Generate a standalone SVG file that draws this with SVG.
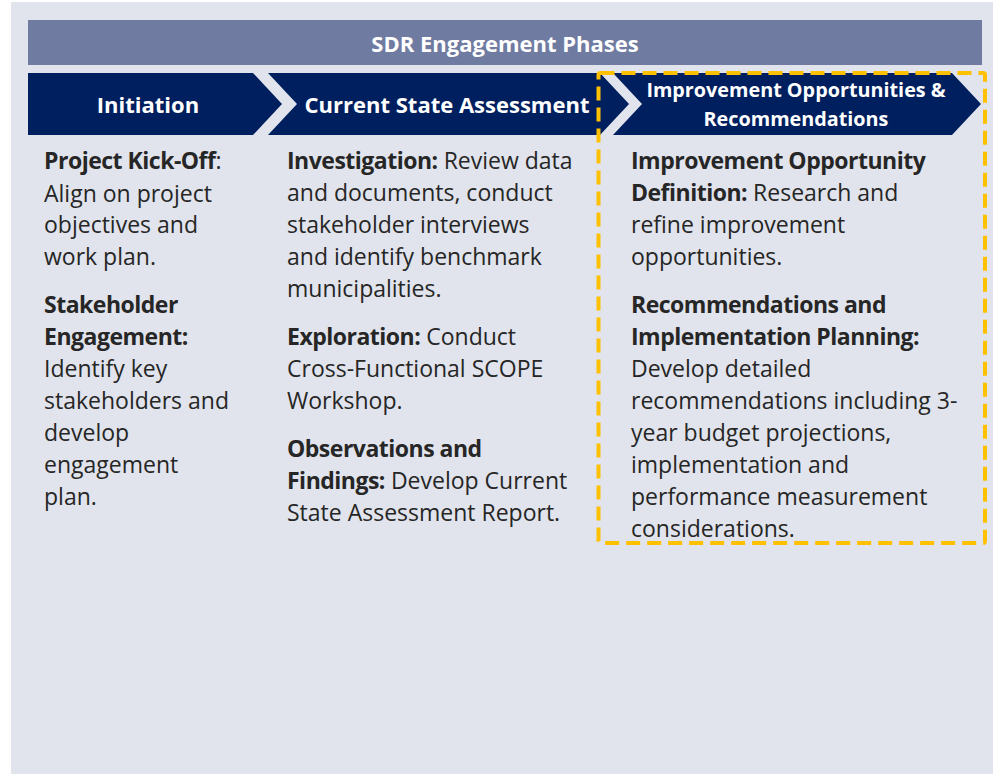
<svg xmlns="http://www.w3.org/2000/svg" width="998" height="774" viewBox="0 0 998 774">
<style>
.bg{fill:#E1E4EC}
.hdr{fill:#6F7BA0}
.chev{fill:#001F5F}
.ht{font-family:"Open Sans","Liberation Sans",sans-serif;font-weight:700;fill:#FFFFFF;text-anchor:middle}
.body{font-family:"Open Sans","Liberation Sans",sans-serif;font-size:23px;fill:#262626}
.b{font-weight:700;letter-spacing:-0.5px}
.focus{fill:none;stroke:#FFC000;stroke-width:4;stroke-dasharray:14 7;stroke-linejoin:round}
</style>
<rect class="bg" x="11" y="2" width="982" height="772"/>
<g id="header">
<rect class="hdr" x="28" y="20" width="954" height="45"/>
<text class="ht" x="505" y="52" font-size="22">SDR Engagement Phases</text>
</g>
<g id="phase-initiation">
<path class="chev" d="M28,73 L253,73 L282,104 L253,135 L28,135 Z"/>
<text class="ht" x="148" y="113" font-size="22">Initiation</text>
</g>
<g id="phase-current-state">
<path class="chev" d="M268,73 L600,73 L629,104 L600,135 L268,135 L297,104 Z"/>
<text class="ht" x="447" y="113" font-size="22">Current State Assessment</text>
</g>
<g id="phase-improvement">
<path class="chev" d="M613,73 L952,73 L981,104 L952,135 L613,135 L642,104 Z"/>
<text class="ht" x="796" y="97" font-size="19.8">Improvement Opportunities &amp;</text>
<text class="ht" x="796" y="126" font-size="19.8">Recommendations</text>
</g>
<g id="col-initiation" class="body">
<text x="44" y="169"><tspan class="b">Project Kick-Off</tspan>:</text>
<text x="44" y="202">Align on project</text>
<text x="44" y="233">objectives and</text>
<text x="44" y="265">work plan.</text>
<text x="44" y="313" class="b">Stakeholder</text>
<text x="44" y="345" class="b">Engagement:</text>
<text x="44" y="377">Identify key</text>
<text x="44" y="409">stakeholders and</text>
<text x="44" y="441">develop</text>
<text x="44" y="473">engagement</text>
<text x="44" y="505">plan.</text>
</g>
<g id="col-current-state" class="body">
<text x="287" y="169"><tspan class="b">Investigation:</tspan> Review data</text>
<text x="287" y="201">and documents, conduct</text>
<text x="287" y="233">stakeholder interviews</text>
<text x="287" y="265">and identify benchmark</text>
<text x="287" y="297">municipalities.</text>
<text x="287" y="345"><tspan class="b">Exploration:</tspan> Conduct</text>
<text x="287" y="377">Cross-Functional SCOPE</text>
<text x="287" y="409">Workshop.</text>
<text x="287" y="457" class="b">Observations and</text>
<text x="287" y="489"><tspan class="b">Findings:</tspan> Develop Current</text>
<text x="287" y="521">State Assessment Report.</text>
</g>
<g id="col-improvement" class="body">
<text x="631" y="169" class="b">Improvement Opportunity</text>
<text x="631" y="201"><tspan class="b">Definition:</tspan> Research and</text>
<text x="631" y="233">refine improvement</text>
<text x="631" y="265">opportunities.</text>
<text x="631" y="313" class="b">Recommendations and</text>
<text x="631" y="345" class="b">Implementation Planning:</text>
<text x="631" y="377">Develop detailed</text>
<text x="631" y="409">recommendations including 3-</text>
<text x="631" y="441">year budget projections,</text>
<text x="631" y="473">implementation and</text>
<text x="631" y="505">performance measurement</text>
<text x="631" y="537">considerations.</text>
</g>
<g id="focus-box">
<rect class="focus" x="598.5" y="73" width="386.5" height="470" rx="2"/>
</g>
</svg>
